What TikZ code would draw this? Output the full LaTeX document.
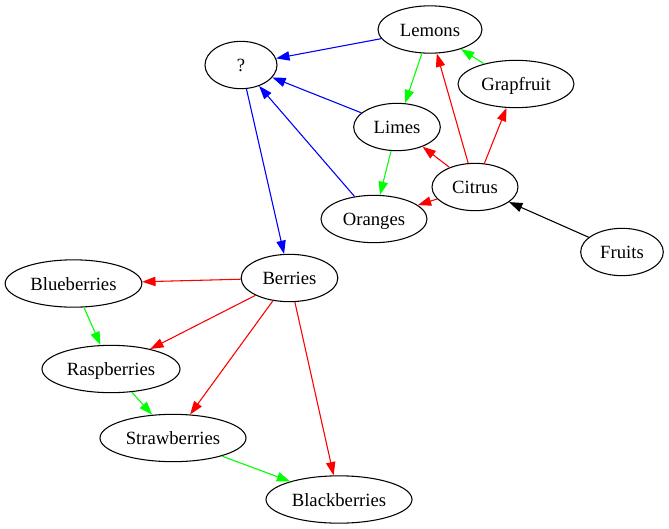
\documentclass[tikz,border=0pt]{standalone}
\usepackage{fontspec}
\setmainfont{Liberation Serif}
\usetikzlibrary{shapes.geometric,arrows.meta}
\begin{document}
\begin{tikzpicture}[x=0.75pt,y=-0.75pt,
  fruit/.style={ellipse,draw=black,line width=0.8pt,inner sep=0pt,
    minimum height=35.5pt,text height=13pt,text depth=3pt,
    font=\fontsize{14pt}{16pt}\selectfont},
  edge/.style={line width=0.8pt,-{Triangle[length=10pt,width=7pt]}},
  blueedge/.style={edge,draw=blue,fill=blue},
  greenedge/.style={edge,draw=green,fill=green},
  rededge/.style={edge,draw=red,fill=red},
  blackedge/.style={edge,draw=black,fill=black}]
\useasboundingbox (0,0) rectangle (669,529);
% nodes (positions in pixel units)
\node[fruit,minimum width=54pt]    (q)      at (241,65)    {?};
\node[fruit,minimum width=78pt]    (lemons) at (430,29.5)  {Lemons};
\node[fruit,minimum width=87pt]    (grap)   at (516,84)    {Grapfruit};
\node[fruit,minimum width=65pt]    (limes)  at (397,127)   {Limes};
\node[fruit,minimum width=64.5pt]  (citrus) at (475,187)   {Citrus};
\node[fruit,minimum width=79.5pt]  (oranges) at (374,219)  {Oranges};
\node[fruit,minimum width=62pt]    (fruits) at (622,252)   {Fruits};
\node[fruit,minimum width=72.5pt]  (berries) at (289.5,278) {Berries};
\node[fruit,minimum width=102.5pt] (blue)   at (73.5,283.5) {Blueberries};
\node[fruit,minimum width=103.5pt] (rasp)   at (111,369)   {Raspberries};
\node[fruit,minimum width=109.5pt] (straw)  at (173,438)   {Strawberries};
\node[fruit,minimum width=109.5pt] (black)  at (339,499.5) {Blackberries};
% blue edges
\draw[blueedge] (lemons) -- (q);
\draw[blueedge] (limes) -- (q);
\draw[blueedge] (oranges) -- (q);
\draw[blueedge] (q) -- (berries);
% green edges
\draw[greenedge] (lemons) -- (limes);
\draw[greenedge] (limes) -- (oranges);
\draw[greenedge] (grap) -- (lemons);
\draw[greenedge] (blue) -- (rasp);
\draw[greenedge] (rasp) -- (straw);
\draw[greenedge] (straw) -- (black);
% red edges
\draw[rededge] (citrus) -- (lemons);
\draw[rededge] (citrus) -- (grap);
\draw[rededge] (citrus) -- (limes);
\draw[rededge] (citrus) -- (oranges);
\draw[rededge] (berries) -- (blue);
\draw[rededge] (berries) -- (rasp);
\draw[rededge] (berries) -- (straw);
\draw[rededge] (berries) -- (black);
% black edge
\draw[blackedge] (fruits) -- (citrus);
\end{tikzpicture}
\end{document}
